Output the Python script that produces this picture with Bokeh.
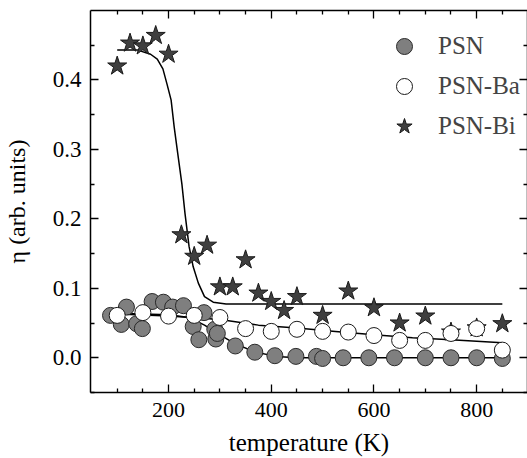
from bokeh.plotting import figure
from bokeh.models import Range1d, LinearAxis, FixedTicker, Legend, LegendItem, PrintfTickFormatter
from bokeh.embed import file_html
from bokeh.resources import INLINE

# PSN (grey filled circles)
psn_T = [87, 108, 118, 138, 149, 168, 190, 208, 229, 248, 259, 269, 290, 292, 295, 330, 368, 407, 448, 488, 500, 540, 590, 640, 700, 750, 800, 850]
psn_v = [0.061, 0.048, 0.073, 0.049, 0.042, 0.081, 0.080, 0.073, 0.075, 0.045, 0.026, 0.065, 0.041, 0.027, 0.035, 0.017, 0.008, 0.003, 0.002, 0.002, -0.001, 0.0, 0.0, 0.0, 0.0, 0.0, 0.0, -0.001]
# PSN-Ba (open circles)
ba_T = [100, 150, 200, 250, 300, 350, 400, 450, 500, 550, 600, 650, 700, 750, 800, 850]
ba_v = [0.061, 0.065, 0.060, 0.061, 0.058, 0.042, 0.038, 0.041, 0.038, 0.037, 0.032, 0.025, 0.025, 0.035, 0.042, 0.011]
# PSN-Bi (stars)
bi_T = [100, 125, 150, 175, 200, 225, 250, 275, 300, 325, 350, 375, 400, 425, 450, 500, 550, 600, 650, 700, 750, 800, 850]
bi_v = [0.420, 0.453, 0.449, 0.464, 0.437, 0.177, 0.146, 0.162, 0.102, 0.102, 0.141, 0.093, 0.081, 0.068, 0.088, 0.061, 0.096, 0.072, 0.050, 0.060, 0.037, 0.043, 0.049]

# fitted curves
psn_fit_T = [100, 150, 200, 240, 270, 300, 330, 370, 410, 450, 850]
psn_fit_v = [0.064, 0.063, 0.062, 0.058, 0.047, 0.033, 0.020, 0.008, 0.002, 0.0, 0.0]
ba_fit_T = [100, 200, 300, 375, 450, 525, 600, 675, 750, 850]
ba_fit_v = [0.063, 0.060, 0.055, 0.047, 0.043, 0.038, 0.033, 0.029, 0.026, 0.0215]
bi_fit_T = [100, 140, 165, 178, 189, 197, 205, 211, 217, 226, 232, 240, 248, 258, 270, 287, 312, 850]
bi_fit_v = [0.443, 0.443, 0.437, 0.430, 0.416, 0.394, 0.371, 0.332, 0.299, 0.250, 0.208, 0.160, 0.131, 0.1075, 0.088, 0.080, 0.0774, 0.0774]

x_major = [200, 400, 600, 800]
x_minor = [100, 150, 250, 300, 350, 450, 500, 550, 650, 700, 750, 850]
y_major = [0.0, 0.1, 0.2, 0.3, 0.4]
y_minor = [-0.05, 0.05, 0.15, 0.25, 0.35, 0.45]

FONT = "'Liberation Serif', 'DejaVu Serif', serif"

p = figure(width=527, height=458, output_backend="svg", toolbar_location=None,
           x_range=Range1d(48, 899), y_range=Range1d(-0.05, 0.5),
           min_border_left=86, min_border_right=0, min_border_top=10, min_border_bottom=65)
p.outline_line_color = None
p.grid.visible = False
p.background_fill_color = "white"
p.border_fill_color = "white"

bottom = p.below[0]
left = p.left[0]
bottom.axis_label = "temperature (K)"
left.axis_label = "η (arb. units)"

xt = FixedTicker(ticks=x_major, minor_ticks=x_minor)
yt = FixedTicker(ticks=y_major, minor_ticks=y_minor)

top = LinearAxis()
right = LinearAxis()
p.add_layout(top, "above")
p.add_layout(right, "right")

for ax in [bottom, top]:
    ax.ticker = xt
for ax in [left, right]:
    ax.ticker = yt
    ax.formatter = PrintfTickFormatter(format="%.1f")

for ax in [bottom, left, top, right]:
    ax.major_tick_in = 8
    ax.major_tick_out = 0
    ax.minor_tick_in = 4
    ax.minor_tick_out = 0
    ax.axis_line_width = 1.5
    ax.major_tick_line_width = 1.3
    ax.minor_tick_line_width = 1.3
    ax.axis_line_color = "black"
    ax.major_tick_line_color = "black"
    ax.minor_tick_line_color = "black"
    ax.major_label_text_font = FONT
    ax.major_label_text_font_size = "22px"
    ax.major_label_text_color = "black"
    ax.axis_label_text_font = FONT
    ax.axis_label_text_font_size = "25px"
    ax.axis_label_text_font_style = "normal"
    ax.axis_label_text_color = "black"

top.major_label_overrides = {t: "" for t in x_major}
right.major_label_overrides = {t: "" for t in y_major}
for ax in [top, right]:
    ax.major_label_text_font_size = "1px"
    ax.major_label_standoff = 0

left.major_label_text_font_size = "23px"
left.axis_label_text_font_size = "24px"
bottom.major_label_standoff = 10
bottom.axis_label_standoff = 9
left.major_label_standoff = 9
left.axis_label_standoff = 20

p.line(psn_fit_T, psn_fit_v, line_color="black", line_width=1.5)
p.line(ba_fit_T, ba_fit_v, line_color="black", line_width=1.5)
p.line(bi_fit_T, bi_fit_v, line_color="black", line_width=1.5)

r_bi = p.scatter(bi_T, bi_v, marker="star", size=20, fill_color="#3f3f3f", line_color="#1a1a1a", line_width=1)
r_psn = p.scatter(psn_T, psn_v, marker="circle", size=16, fill_color="#7f7f7f", line_color="#2a2a2a", line_width=1)
r_ba = p.scatter(ba_T, ba_v, marker="circle", size=16, fill_color="white", line_color="#1a1a1a", line_width=1)

legend = Legend(items=[LegendItem(label="PSN", renderers=[r_psn]),
                       LegendItem(label="PSN-Ba", renderers=[r_ba]),
                       LegendItem(label="PSN-Bi", renderers=[r_bi])],
                location=(294, 246), padding=0, spacing=-4, glyph_width=40, glyph_height=40,
                label_standoff=14, label_text_font=FONT, label_text_font_size="25px",
                border_line_alpha=0, background_fill_alpha=0, margin=0)
p.add_layout(legend, "center")

open("out.html", "w").write(file_html(p, INLINE))
